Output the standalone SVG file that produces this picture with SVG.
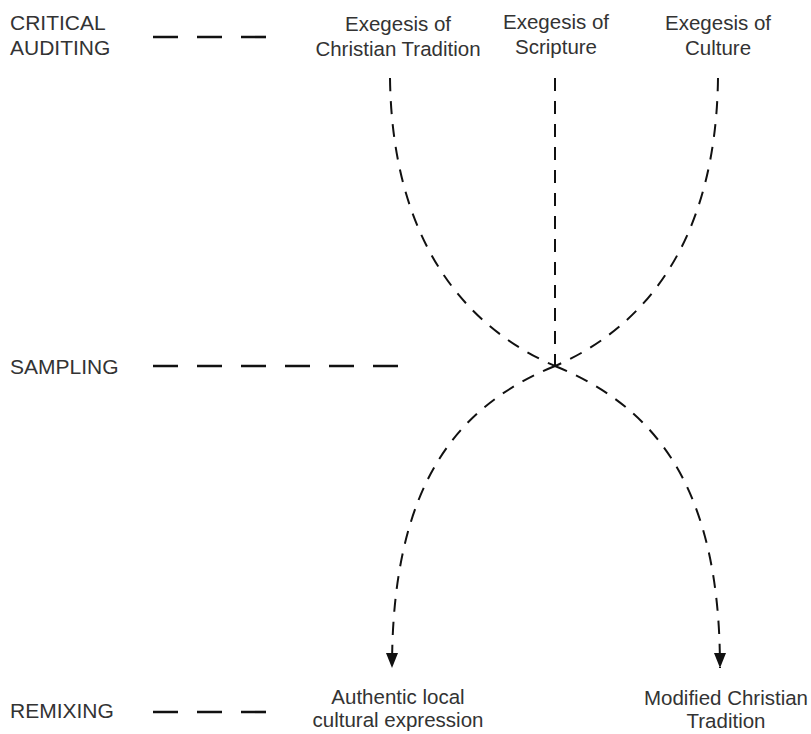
<svg xmlns="http://www.w3.org/2000/svg" width="811" height="734" viewBox="0 0 811 734">
<defs>
<style>
text{font-family:"Liberation Sans","DejaVu Sans",sans-serif;font-size:20.5px;fill:#333}
.cap{font-size:21px}
.m{text-anchor:middle}
.lvl{stroke:#111;stroke-width:2.6;stroke-dasharray:25 19;fill:none}
.c{stroke:#111;stroke-width:2;stroke-dasharray:13 10;fill:none}
</style>
<marker id="ah" viewBox="0 0 15 12" refX="15" refY="6" markerWidth="15" markerHeight="12" markerUnits="userSpaceOnUse" orient="auto"><path d="M0,0 L15,6 L0,12 Z" fill="#111"/></marker>
</defs>
<rect width="811" height="734" fill="#fff"/>
<g id="levels">
<g id="critical"><text class="cap" x="10" y="30">CRITICAL</text><text class="cap" x="10" y="55">AUDITING</text></g>
<g id="sampling"><text class="cap" x="10" y="374">SAMPLING</text></g>
<g id="remixing"><text class="cap" x="10" y="718">REMIXING</text></g>
</g>
<g id="n1"><text class="m" x="398" y="31">Exegesis of</text><text class="m" x="398" y="56">Christian Tradition</text></g>
<g id="n2"><text class="m" x="556" y="29">Exegesis of</text><text class="m" x="556" y="54">Scripture</text></g>
<g id="n3"><text class="m" x="718" y="30">Exegesis of</text><text class="m" x="718" y="55">Culture</text></g>
<g id="n4"><text class="m" x="398" y="704">Authentic local</text><text class="m" x="398" y="727">cultural expression</text></g>
<g id="n5"><text class="m" x="726" y="705">Modified Christian</text><text class="m" x="726" y="728">Tradition</text></g>
<g id="connectors">
<path class="lvl" d="M153,37 H268"/>
<path class="lvl" d="M153,366 H398"/>
<path class="lvl" d="M153,712 H268"/>
<path class="c" d="M390,78 C392,235 460,325 555,366"/>
<path class="c" d="M555,78 V366"/>
<path class="c" d="M718,78 C716,235 650,325 555,366"/>
<path class="c" d="M555,366 C460,405 392,480 392,668" marker-end="url(#ah)"/>
<path class="c" d="M555,366 C650,405 720,480 720,668" marker-end="url(#ah)"/>
</g>
</svg>
